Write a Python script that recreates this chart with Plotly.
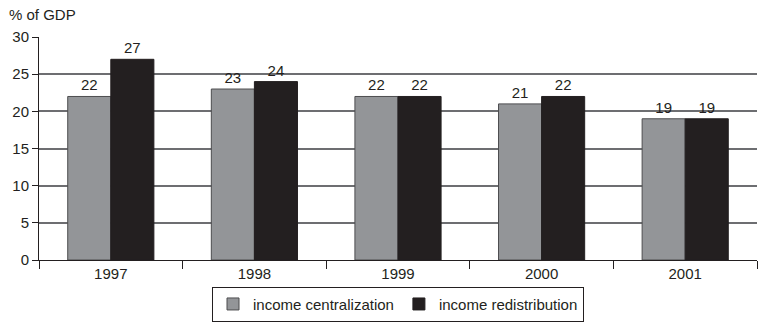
import plotly.graph_objects as go

years = ["1997", "1998", "1999", "2000", "2001"]
centralization = [22, 23, 22, 21, 19]
redistribution = [27, 24, 22, 22, 19]
y_ticks = [0, 5, 10, 15, 20, 25, 30]

dark = "#231f20"
gray = "#939598"
font = dict(family="Liberation Sans, Arial, sans-serif", size=15, color=dark)

fig = go.Figure()
fig.add_trace(go.Bar(
    x=years, y=centralization, name="income centralization",
    marker=dict(color=gray, line=dict(color="#4d4d4f", width=1)),
    text=centralization, textposition="outside", textfont=font, cliponaxis=False,
))
fig.add_trace(go.Bar(
    x=years, y=redistribution, name="income redistribution",
    marker=dict(color=dark, line=dict(color=dark, width=1)),
    text=redistribution, textposition="outside", textfont=font, cliponaxis=False,
))

fig.update_layout(
    width=758, height=323,
    margin=dict(l=39, r=1, t=37, b=63),
    paper_bgcolor="white", plot_bgcolor="white",
    font=font,
    barmode="group", bargap=0.40, bargroupgap=0,
    showlegend=True,
    legend=dict(orientation="h", x=0.5, xanchor="center",
                yref="container", y=0.004, yanchor="bottom",
                bordercolor=dark, borderwidth=1, font=font,
                itemwidth=30, tracegroupgap=0),
    xaxis=dict(type="category", showline=True, linecolor=dark, linewidth=1,
               ticks="outside", tickson="boundaries", ticklen=8, tickcolor=dark,
               showgrid=False, tickfont=font),
    yaxis=dict(range=[0, 30], tickvals=y_ticks, showline=True, linecolor=dark, linewidth=1,
               ticks="outside", ticklen=6, tickcolor=dark,
               showgrid=True, gridcolor="#6d6e71", gridwidth=1.5,
               zeroline=True, zerolinecolor=dark, zerolinewidth=1, tickfont=font),
    annotations=[dict(text="% of GDP", x=0, xref="paper", xanchor="left", xshift=-32,
                      y=1, yref="paper", yanchor="bottom", yshift=12,
                      showarrow=False, font=font)],
)

fig.write_html("out.html")
